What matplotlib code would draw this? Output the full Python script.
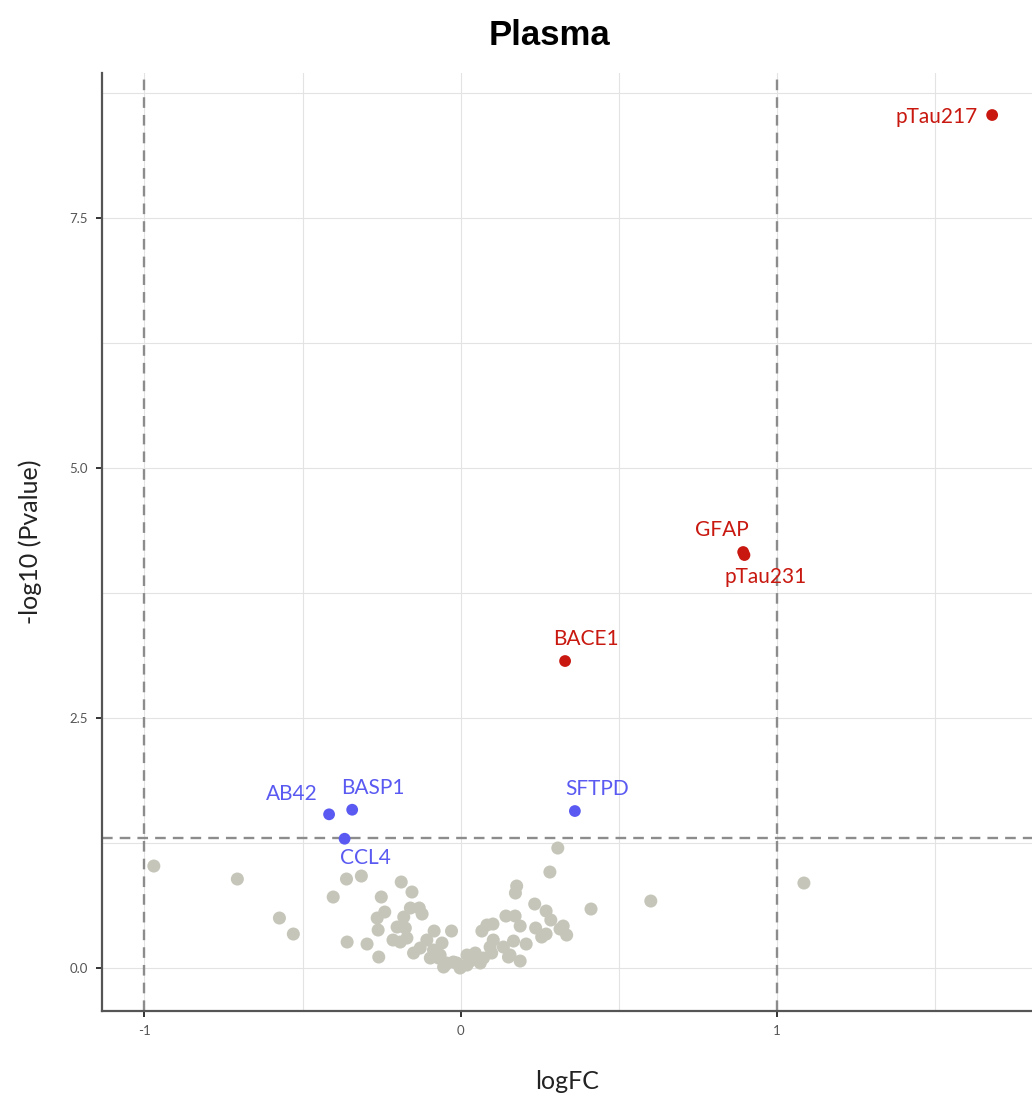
import numpy as np
import matplotlib
matplotlib.use('Agg')
import matplotlib.pyplot as plt

# non-significant proteins (logFC, -log10 p)
gray_x = [-0.970, -0.706, -0.573, -0.529, -0.403, -0.361, -0.314, -0.359, -0.296, -0.259,
          -0.251, -0.240, -0.264, -0.261, -0.188, -0.154, -0.159, -0.131, -0.122, -0.180,
          -0.201, -0.175, -0.214, -0.191, -0.170, -0.084, -0.029, -0.149, -0.107, -0.128,
          -0.086, -0.059, -0.065, -0.096, -0.044, -0.012, 0.020, -0.002, -0.054, 0.307,
          0.282, 0.177, 0.173, 0.234, 0.270, 0.285, 0.143, 0.172, 0.188, 0.067,
          0.083, 0.102, 0.237, 0.256, 0.270, 0.324, 0.335, 0.314, 0.207, 0.167,
          0.135, 0.156, 0.188, 0.103, 0.093, 0.098, 0.412, 0.601, 1.085, -0.070,
          -0.049, -0.023, 0.000, 0.020, 0.040, 0.062, 0.072, 0.030, 0.046, 0.151]
gray_y = [1.02, 0.89, 0.50, 0.34, 0.71, 0.89, 0.92, 0.26, 0.24, 0.11,
          0.71, 0.56, 0.50, 0.38, 0.86, 0.76, 0.60, 0.60, 0.54, 0.51,
          0.41, 0.40, 0.28, 0.26, 0.30, 0.37, 0.37, 0.15, 0.28, 0.20,
          0.18, 0.25, 0.13, 0.10, 0.05, 0.05, 0.13, 0.00, 0.01, 1.20,
          0.96, 0.82, 0.75, 0.64, 0.57, 0.48, 0.52, 0.52, 0.42, 0.37,
          0.43, 0.44, 0.40, 0.31, 0.34, 0.42, 0.33, 0.39, 0.24, 0.27,
          0.21, 0.13, 0.07, 0.28, 0.21, 0.15, 0.59, 0.67, 0.85, 0.10,
          0.03, 0.06, 0.01, 0.03, 0.10, 0.05, 0.10, 0.07, 0.15, 0.11]

# significant up (red) and down / small fc (blue)
up_names = ['pTau217', 'GFAP', 'pTau231', 'BACE1']
up_x = [1.680, 0.893, 0.897, 0.330]
up_y = [8.53, 4.16, 4.13, 3.07]

down_names = ['AB42', 'BASP1', 'CCL4', 'SFTPD']
down_x = [-0.416, -0.343, -0.367, 0.361]
down_y = [1.537, 1.583, 1.293, 1.570]

x_ticks = [-1, 0, 1]
y_ticks = [0.0, 2.5, 5.0, 7.5]

# label offsets in points (repel-like placement)
offsets = {'pTau217': (-40, -1.5), 'GFAP': (-15, 16), 'pTau231': (15, -16),
           'BACE1': (15, 16), 'AB42': (-26.5, 14.5), 'BASP1': (15, 16),
           'CCL4': (15, -14), 'SFTPD': (16, 16)}

RED = '#C8180F'
BLUE = '#5A5AF2'
GRAY = '#C5C5B9'
FONT = ['Lato', 'DejaVu Sans']

fig = plt.figure(figsize=(10.32, 10.98), dpi=100)
ax = fig.add_axes([0.0988, 0.0792, 0.9012, 0.8543])

ax.set_xlim(-1.134, 1.806)
ax.set_ylim(-0.43, 8.95)

# grid (major + minor)
for gx in [-1, -0.5, 0, 0.5, 1, 1.5]:
    ax.axvline(gx, color='#e3e3e3', lw=0.8, zorder=0)
for gy in [0, 1.25, 2.5, 3.75, 5, 6.25, 7.5, 8.75]:
    ax.axhline(gy, color='#e3e3e3', lw=0.8, zorder=0)

# threshold lines
dash = dict(color='#8c8c8c', lw=1.7, ls=(0, (4.5, 3)), zorder=1)
ax.axvline(-1, **dash)
ax.axvline(1, **dash)
ax.axhline(-np.log10(0.05), **dash)

ax.scatter(gray_x, gray_y, s=88, color=GRAY, edgecolor='none', zorder=2)
ax.scatter(up_x, up_y, s=72, color=RED, edgecolor='none', zorder=3)
ax.scatter(down_x, down_y, s=72, color=BLUE, edgecolor='none', zorder=3)

for names, xs, ys, c in [(up_names, up_x, up_y, RED), (down_names, down_x, down_y, BLUE)]:
    for n, x, y in zip(names, xs, ys):
        ax.annotate(n, (x, y), xytext=offsets[n], textcoords='offset points',
                    ha='center', va='center', color=c, fontsize=15, family=FONT, zorder=4)

for s in ['top', 'right']:
    ax.spines[s].set_visible(False)
for s in ['left', 'bottom']:
    ax.spines[s].set_color('#555555')
    ax.spines[s].set_linewidth(1.6)

ax.set_xticks(x_ticks)
ax.set_xticklabels([str(t) for t in x_ticks])
ax.set_yticks(y_ticks)
ax.set_yticklabels(['%.1f' % t for t in y_ticks])
ax.tick_params(length=4, width=1.4, color='#333333', labelcolor='#555555', labelsize=9.5, pad=6)
for lab in ax.get_xticklabels() + ax.get_yticklabels():
    lab.set_family(FONT)

ax.set_xlabel('logFC', fontsize=18, family=FONT, labelpad=24, color='#222222')
ax.set_ylabel('-log10 (Pvalue)', fontsize=18, family=FONT, labelpad=20, color='#222222')

fig.text(0.532, 0.968, 'Plasma', ha='center', va='center', fontsize=25,
         fontweight='bold', family=['Liberation Sans', 'DejaVu Sans'])

fig.savefig('out.png', dpi=100)
